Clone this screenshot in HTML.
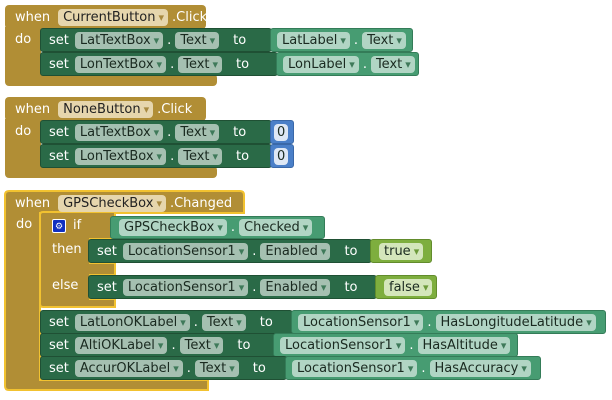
<!DOCTYPE html><html><head><style>
body{margin:0;width:612px;height:400px;background:#fff;position:relative;overflow:hidden;font-family:"DejaVu Sans","Liberation Sans",sans-serif;font-size:13px;color:#fff}
.a{position:absolute;box-sizing:border-box}
.ev{background:#b18e35;border-radius:4px}
.row{display:flex;align-items:center;white-space:nowrap;height:100%}
.set{background:#2a6a47;border:1px solid #1f5034;border-radius:3px}
.get{background:#479c72;border:1px solid #347c58;border-radius:3px}
.p{display:inline-block;background:rgba(255,255,255,.58);color:#1a2a20;border-radius:4px;padding:0 4px 0 5px;height:17px;line-height:17px;margin:0 4px}
.ev .p{background:#e6d6ad;color:#222}
.p i{font-style:normal;color:#3f7a5a;font-size:11px;margin-left:3px}
.ev .p i{color:#a88a40}
.t{margin:0 4px}
.num{background:#4a7fc8;border:1px solid #3a68a8;border-radius:3px}
.bool{background:#7eae3e;border:1px solid #628c2c;border-radius:3px}
.bool .p{background:#d4e6bb}
.bool .p i{color:#6d9a3a}
</style></head><body>

<!-- Block 1 -->
<div class="a ev" style="left:5px;top:5px;width:201px;height:24px"><div class="row" style="padding-left:10px">when<span class="p" style="margin-left:8px">CurrentButton<i>▾</i></span>.Click</div></div>
<div class="a ev" style="left:5px;top:27px;width:36px;height:52px;border-radius:0"><div style="padding:5px 0 0 10px">do</div></div>
<div class="a ev" style="left:5px;top:74px;width:212px;height:12px"></div>
<div class="a set" style="left:40px;top:28px;width:232px;height:24px"><div class="row" style="padding-left:8px">set<span class="p" style="margin-left:6px">LatTextBox<i>▾</i></span>.<span class="p">Text<i>▾</i></span><span class="t" style="margin-left:10px">to</span></div></div>
<div class="a get" style="left:270px;top:28px;width:143px;height:24px"><div class="row" style="padding-left:2px"><span class="p">LatLabel<i>▾</i></span>.<span class="p">Text<i>▾</i></span></div></div>
<div class="a set" style="left:40px;top:52px;width:238px;height:24px"><div class="row" style="padding-left:8px">set<span class="p" style="margin-left:6px">LonTextBox<i>▾</i></span>.<span class="p">Text<i>▾</i></span><span class="t" style="margin-left:10px">to</span></div></div>
<div class="a get" style="left:276px;top:52px;width:143px;height:24px"><div class="row" style="padding-left:2px"><span class="p">LonLabel<i>▾</i></span>.<span class="p">Text<i>▾</i></span></div></div>

<!-- Block 2 -->
<div class="a ev" style="left:5px;top:97px;width:201px;height:24px"><div class="row" style="padding-left:10px">when<span class="p" style="margin-left:8px">NoneButton<i>▾</i></span>.Click</div></div>
<div class="a ev" style="left:5px;top:119px;width:36px;height:52px;border-radius:0"><div style="padding:5px 0 0 10px">do</div></div>
<div class="a ev" style="left:5px;top:166px;width:212px;height:12px"></div>
<div class="a set" style="left:40px;top:120px;width:232px;height:24px"><div class="row" style="padding-left:8px">set<span class="p" style="margin-left:6px">LatTextBox<i>▾</i></span>.<span class="p">Text<i>▾</i></span><span class="t" style="margin-left:10px">to</span></div></div>
<div class="a num" style="left:270px;top:120px;width:24px;height:24px"><div class="row" style="padding-left:1px"><span class="p" style="background:#dde7f5;padding:0 3px;margin:0 2px">0</span></div></div>
<div class="a set" style="left:40px;top:144px;width:232px;height:24px"><div class="row" style="padding-left:8px">set<span class="p" style="margin-left:6px">LonTextBox<i>▾</i></span>.<span class="p">Text<i>▾</i></span><span class="t" style="margin-left:10px">to</span></div></div>
<div class="a num" style="left:270px;top:144px;width:24px;height:24px"><div class="row" style="padding-left:1px"><span class="p" style="background:#dde7f5;padding:0 3px;margin:0 2px">0</span></div></div>

<!-- Block 3 -->
<svg class="a" style="left:0;top:0" width="612" height="400">
<path d="M9,191 H240 Q244,191 244,195 V213 H40 V380 H208 V390 H9 Q5,390 5,386 V195 Q5,191 9,191 Z" fill="#b18e35" stroke="#f2c230" stroke-width="2"/>
<path d="M43,212 H115 V239 H90 V263 H115 V275 H90 V299 H115 V307 H43 Q40,307 40,304 V215 Q40,212 43,212 Z" fill="#b18e35" stroke="#f2c230" stroke-width="2"/>
</svg>
<div class="a" style="left:6px;top:192px;width:237px;height:22px"><div class="row" style="padding-left:9px">when<span class="p" style="margin-left:8px;background:#e6d6ad;color:#222">GPSCheckBox<i style="color:#a88a40">▾</i></span>.Changed</div></div>
<div class="a" style="top:217px;left:16px">do</div>
<div class="a" style="left:52px;top:219px;width:14px;height:14px;background:#1030c0;border:1px solid #fff;border-radius:2px;font-size:9px;line-height:14px;text-align:center">⚙</div>
<div class="a" style="left:73px;top:218px">if</div>
<div class="a" style="left:52px;top:242px">then</div>
<div class="a" style="left:52px;top:278px">else</div>
<div class="a get" style="left:110px;top:216px;width:215px;height:23px"><div class="row" style="padding-left:4px"><span class="p">GPSCheckBox<i>▾</i></span>.<span class="p">Checked<i>▾</i></span></div></div>
<div class="a set" style="left:88px;top:239px;width:284px;height:24px"><div class="row" style="padding-left:8px">set<span class="p" style="margin-left:6px">LocationSensor1<i>▾</i></span>.<span class="p">Enabled<i>▾</i></span><span class="t" style="margin-left:10px">to</span></div></div>
<div class="a bool" style="left:370px;top:239px;width:62px;height:24px"><div class="row" style="padding-left:4px"><span class="p">true<i>▾</i></span></div></div>
<div class="a set" style="left:88px;top:275px;width:289px;height:24px"><div class="row" style="padding-left:8px">set<span class="p" style="margin-left:6px">LocationSensor1<i>▾</i></span>.<span class="p">Enabled<i>▾</i></span><span class="t" style="margin-left:10px">to</span></div></div>
<div class="a bool" style="left:375px;top:275px;width:62px;height:24px"><div class="row" style="padding-left:4px"><span class="p">false<i>▾</i></span></div></div>

<div class="a set" style="left:40px;top:310px;width:253px;height:24px"><div class="row" style="padding-left:8px">set<span class="p" style="margin-left:6px">LatLonOKLabel<i>▾</i></span>.<span class="p">Text<i>▾</i></span><span class="t" style="margin-left:10px">to</span></div></div>
<div class="a get" style="left:291px;top:310px;width:315px;height:24px"><div class="row" style="padding-left:2px"><span class="p">LocationSensor1<i>▾</i></span>.<span class="p">HasLongitudeLatitude<i>▾</i></span></div></div>
<div class="a set" style="left:40px;top:333px;width:235px;height:24px"><div class="row" style="padding-left:8px">set<span class="p" style="margin-left:6px">AltiOKLabel<i>▾</i></span>.<span class="p">Text<i>▾</i></span><span class="t" style="margin-left:10px">to</span></div></div>
<div class="a get" style="left:273px;top:333px;width:245px;height:24px"><div class="row" style="padding-left:2px"><span class="p">LocationSensor1<i>▾</i></span>.<span class="p">HasAltitude<i>▾</i></span></div></div>
<div class="a set" style="left:40px;top:356px;width:247px;height:24px"><div class="row" style="padding-left:8px">set<span class="p" style="margin-left:6px">AccurOKLabel<i>▾</i></span>.<span class="p">Text<i>▾</i></span><span class="t" style="margin-left:10px">to</span></div></div>
<div class="a get" style="left:285px;top:356px;width:256px;height:24px"><div class="row" style="padding-left:2px"><span class="p">LocationSensor1<i>▾</i></span>.<span class="p">HasAccuracy<i>▾</i></span></div></div>
</body></html>
